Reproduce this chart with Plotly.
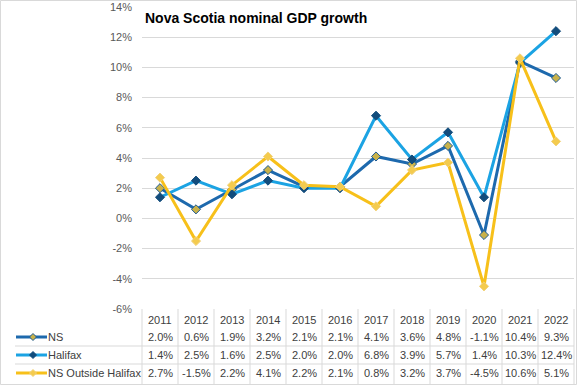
import plotly.graph_objects as go

years = ["2011", "2012", "2013", "2014", "2015", "2016", "2017", "2018", "2019", "2020", "2021", "2022"]
ns = [2.0, 0.6, 1.9, 3.2, 2.1, 2.1, 4.1, 3.6, 4.8, -1.1, 10.4, 9.3]
halifax = [1.4, 2.5, 1.6, 2.5, 2.0, 2.0, 6.8, 3.9, 5.7, 1.4, 10.3, 12.4]
outside = [2.7, -1.5, 2.2, 4.1, 2.2, 2.1, 0.8, 3.2, 3.7, -4.5, 10.6, 5.1]
series_names = ["NS", "Halifax", "NS Outside Halifax"]
y_tick_vals = [-6, -4, -2, 0, 2, 4, 6, 8, 10, 12, 14]
y_tick_labels = ["-6%", "-4%", "-2%", "0%", "2%", "4%", "6%", "8%", "10%", "12%", "14%"]
title_text = "Nova Scotia nominal GDP growth"

W, H = 577, 385
L, R, T, B = 142, 3, 7, 76
PW, PH = W - L - R, H - T - B

def px(x):
    return (x - L) / PW

def py(y):
    return (H - B - y) / PH

line_colors = ["#1D69AD", "#1BA3E3", "#F7C01A"]
marker_fill = ["#C9B24A", "#124C7C", "#F4CB4E"]
marker_edge = ["#1C5A94", "#124C7C", "#F2D27A"]

fig = go.Figure()
for name, vals, lc, mf, me in zip(series_names, [ns, halifax, outside], line_colors, marker_fill, marker_edge):
    fig.add_trace(go.Scatter(
        x=years, y=vals, name=name, mode="lines+markers",
        line=dict(color=lc, width=3),
        marker=dict(symbol="diamond", size=7, color=mf, line=dict(color=me, width=1)),
        showlegend=False,
    ))

font_family = "Liberation Sans, Arial, sans-serif"
txt_color = "#404040"

annotations = []
shapes = []

annotations.append(dict(text="<b>" + title_text + "</b>", xref="paper", yref="paper",
                        x=px(143), y=py(18), xanchor="left", yanchor="middle", showarrow=False,
                        font=dict(size=14, color="#000000", family=font_family)))

n = len(years)
def colx(i):
    return (i + 0.5) / n

row_y = [320, 337, 355, 373]
for i, yr in enumerate(years):
    annotations.append(dict(text=yr, x=colx(i), xref="paper", yref="paper", y=py(row_y[0]),
                            showarrow=False, xanchor="center", yanchor="middle",
                            font=dict(size=11, color=txt_color, family=font_family)))
for r, vals in enumerate([ns, halifax, outside]):
    for i, v in enumerate(vals):
        annotations.append(dict(text=f"{v:.1f}%", x=colx(i), xref="paper", yref="paper", y=py(row_y[r + 1]),
                                showarrow=False, xanchor="center", yanchor="middle",
                                font=dict(size=11, color=txt_color, family=font_family)))
    annotations.append(dict(text=series_names[r], xref="paper", yref="paper", x=px(46), y=py(row_y[r + 1]),
                            showarrow=False, xanchor="left", yanchor="middle",
                            font=dict(size=11, color=txt_color, family=font_family)))
    yk = py(row_y[r + 1])
    shapes.append(dict(type="line", xref="paper", yref="paper", x0=px(16), x1=px(47), y0=yk, y1=yk,
                       line=dict(color=line_colors[r], width=3)))
    cx, cy, d = 33, row_y[r + 1], 3.5
    path = f"M {px(cx - d)} {py(cy)} L {px(cx)} {py(cy - d)} L {px(cx + d)} {py(cy)} L {px(cx)} {py(cy + d)} Z"
    shapes.append(dict(type="path", xref="paper", yref="paper", path=path,
                       fillcolor=marker_fill[r], line=dict(color=marker_edge[r], width=1)))

grid = "#D9D9D9"
for i in range(n + 1):
    xx = i / n
    shapes.append(dict(type="line", xref="paper", yref="paper", x0=xx, x1=xx, y0=py(309), y1=py(384),
                       line=dict(color=grid, width=1), layer="below"))
for yy in [346, 364]:
    shapes.append(dict(type="line", xref="paper", yref="paper", x0=px(15), x1=1, y0=py(yy), y1=py(yy),
                       line=dict(color=grid, width=1), layer="below"))
shapes.append(dict(type="rect", xref="paper", yref="paper", x0=px(0.5), x1=px(576.5), y0=py(0.5), y1=py(384.5),
                   line=dict(color=grid, width=1), layer="below"))

fig.update_layout(
    width=W, height=H,
    margin=dict(l=L, r=R, t=T, b=B, pad=0, autoexpand=False),
    paper_bgcolor="white", plot_bgcolor="white",
    font=dict(family=font_family, size=11, color="#595959"),
    annotations=annotations, shapes=shapes,
    hovermode=False,
    xaxis=dict(type="category", range=[-0.5, 11.5], showticklabels=False, showgrid=False,
               zeroline=False, showline=False, ticks="", automargin=False, fixedrange=True),
    yaxis=dict(range=[-6, 14], tickvals=y_tick_vals, ticktext=y_tick_labels,
               showgrid=True, gridcolor=grid, gridwidth=1,
               zeroline=False, showline=False, ticks="", ticklabelstandoff=9, automargin=False,
               fixedrange=True,
               tickfont=dict(size=11, color="#595959", family=font_family)),
)

fig.write_html("out.html", config={"displayModeBar": False},
               post_script="document.body.style.margin='0';document.body.style.overflow='hidden';")
